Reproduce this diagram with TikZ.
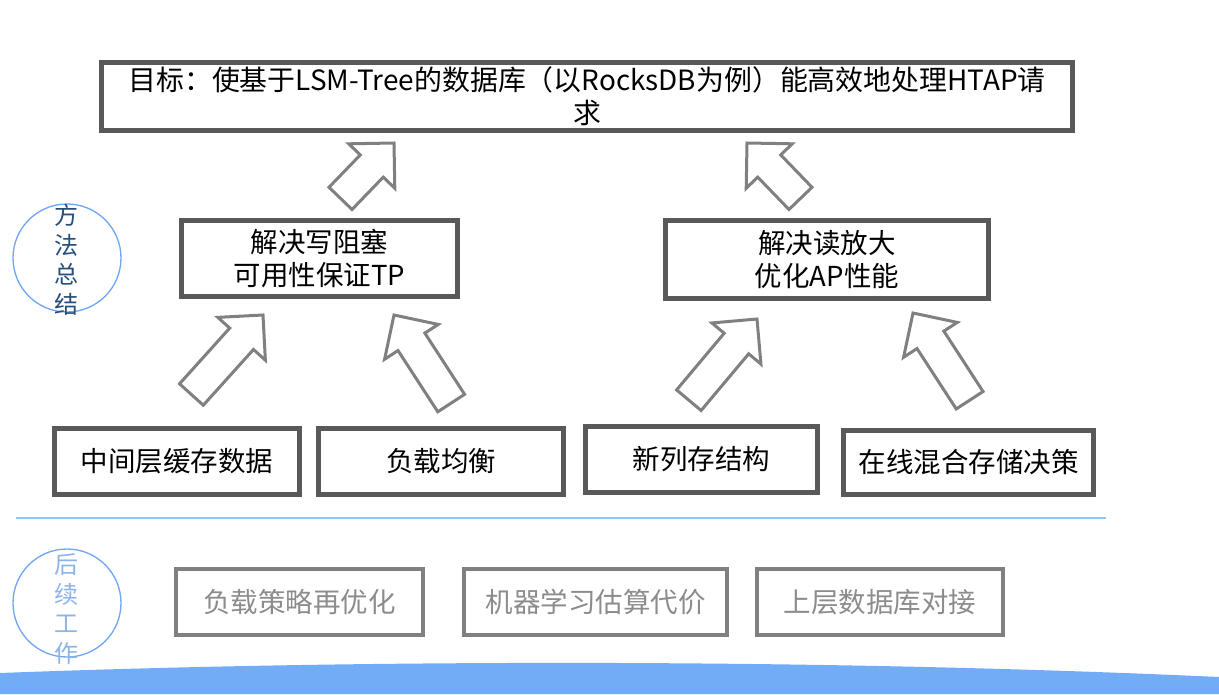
\documentclass[tikz,border=0pt]{standalone}
\usepackage{fontspec}
\setmainfont{Noto Sans CJK SC}
\definecolor{boxline}{HTML}{595959}
\definecolor{arrline}{HTML}{808080}
\definecolor{grayline}{HTML}{808080}
\definecolor{graytext}{HTML}{8C8C8C}
\definecolor{circline}{HTML}{6EA6F3}
\definecolor{circtextA}{HTML}{264E7A}
\definecolor{circtextB}{HTML}{8DB4EA}
\definecolor{sepcol}{HTML}{8CCBF3}
\definecolor{band}{RGB}{114,172,246}
\tikzset{
  mainbox/.style={draw=boxline, line width=4.5pt, fill=white, align=center, inner sep=0pt,
    font=\fontsize{27.5}{33}\selectfont, text=black},
  graybox/.style={draw=grayline, line width=4pt, fill=white, align=center, inner sep=0pt,
    font=\fontsize{27.5}{33}\selectfont, text=graytext},
  blockarrow/.style={draw=arrline, line width=3pt, fill=white, line join=miter},
  ring/.style={circle, draw=circline, line width=1.3pt, inner sep=0pt, minimum size=108pt},
  ringtext/.style={align=center, inner sep=0pt, font=\fontsize{24}{29.5}\selectfont}
}
\newcommand{\bigarrow}[4]{%
  \draw[blockarrow, shift={(#1,#2)}, rotate=#3]
    (0,0) -- (-32,32) -- (-32,16) -- (-#4,16) -- (-#4,-16) -- (-32,-16) -- (-32,-32) -- cycle;}
\begin{document}
\begin{tikzpicture}[x=1pt, y=-1pt]
\useasboundingbox (0,0) rectangle (1219,694);
\fill[white] (0,0) rectangle (1219,694);

% goal box
\node[mainbox, minimum width=971pt, minimum height=68pt, font=\fontsize{27.9}{33}\selectfont] (goal) at (587,96.5)
  {目标：使基于LSM-Tree的数据库（以RocksDB为例）能高效地处理HTAP请\\求};

% middle boxes
\node[mainbox, minimum width=276pt, minimum height=76pt] (tp) at (319.5,258.5)
  {解决写阻塞\\可用性保证TP};
\node[mainbox, minimum width=323pt, minimum height=78pt] (ap) at (827,259.5)
  {解决读放大\\优化AP性能};

% bottom row
\node[mainbox, minimum width=245pt, minimum height=66pt] (b1) at (177,461.5) {中间层缓存数据};
\node[mainbox, minimum width=245pt, minimum height=66pt] (b2) at (441,461.5) {负载均衡};
\node[mainbox, minimum width=232pt, minimum height=66pt] (b3) at (701.5,459.5) {新列存结构};
\node[mainbox, minimum width=250pt, minimum height=64pt] (b4) at (968.5,462.5) {在线混合存储决策};

% block arrows
\bigarrow{394}{143}{46}{77}
\bigarrow{747}{143}{134}{77}
\bigarrow{263}{315}{48}{107}
\bigarrow{394}{315}{123}{105}
\bigarrow{757}{319}{50}{106}
\bigarrow{913}{313}{123}{104}

% separator
\coordinate (sepL) at (16,517.5);
\coordinate (sepR) at (1106,517.5);
\draw[draw=sepcol, line width=2pt] (sepL) -- (sepR);

% future work boxes
\node[graybox, minimum width=247pt, minimum height=66pt] (f1) at (299.5,602) {负载策略再优化};
\node[graybox, minimum width=263pt, minimum height=66pt] (f2) at (595.5,602) {机器学习估算代价};
\node[graybox, minimum width=246pt, minimum height=66pt] (f3) at (880,602) {上层数据库对接};

% circles
\node[ring] (c1) at (67,258) {};
\node[ringtext, text=circtextA] (c1t) at (66,260) {方\\法\\总\\结};
\node[ring] (c2) at (67,603) {};
\node[ringtext, text=circtextB] (c2t) at (66,609) {后\\续\\工\\作};

% bottom band
\fill[band] (0,673) .. controls (400,658) and (850,660) .. (1219,677) -- (1219,694) -- (0,694) -- cycle;
\end{tikzpicture}
\end{document}
